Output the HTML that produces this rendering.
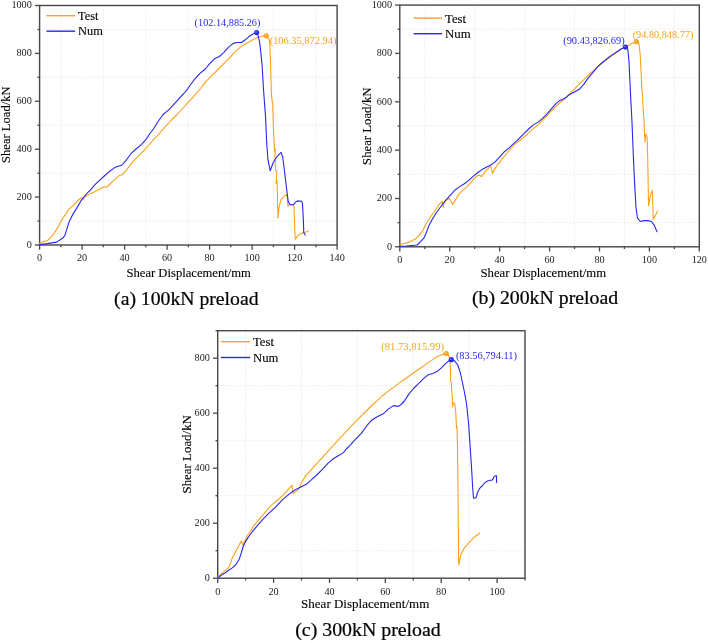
<!DOCTYPE html>
<html><head><meta charset="utf-8"><style>
html,body{margin:0;padding:0;background:#fff;}
body{width:708px;height:643px;overflow:hidden;}
svg{display:block;will-change:transform;}
text{font-family:"Liberation Serif", serif;fill:#000;stroke:#000;stroke-width:0.12px;}
.tl{font-size:10.2px;stroke:none;fill:#1a1a1a;}
.lg{font-size:12px;}
.g{stroke:#e2e2e2;stroke-width:0.8;stroke-dasharray:1,1.2;}
.ax{fill:none;stroke:#474747;stroke-width:1.4;}
.t{stroke:#474747;stroke-width:1.3;}
</style></head><body>
<svg width="708" height="643" viewBox="0 0 708 643">
<line x1="60.9" y1="5.5" x2="60.9" y2="245" class="g"/>
<line x1="103.3" y1="5.5" x2="103.3" y2="245" class="g"/>
<line x1="145.8" y1="5.5" x2="145.8" y2="245" class="g"/>
<line x1="188.3" y1="5.5" x2="188.3" y2="245" class="g"/>
<line x1="230.8" y1="5.5" x2="230.8" y2="245" class="g"/>
<line x1="273.4" y1="5.5" x2="273.4" y2="245" class="g"/>
<line x1="315.9" y1="5.5" x2="315.9" y2="245" class="g"/>
<line x1="39.6" y1="221.1" x2="337.1" y2="221.1" class="g"/>
<line x1="39.6" y1="173.2" x2="337.1" y2="173.2" class="g"/>
<line x1="39.6" y1="125.2" x2="337.1" y2="125.2" class="g"/>
<line x1="39.6" y1="77.3" x2="337.1" y2="77.3" class="g"/>
<line x1="39.6" y1="29.5" x2="337.1" y2="29.5" class="g"/>
<rect x="39.6" y="5.5" width="297.5" height="239.5" class="ax"/>
<line x1="39.6" y1="245" x2="39.6" y2="249.7" class="t"/>
<text x="39.6" y="260.8" class="tl" text-anchor="middle">0</text>
<line x1="60.9" y1="245" x2="60.9" y2="247.2" class="t"/>
<line x1="82.1" y1="245" x2="82.1" y2="249.7" class="t"/>
<text x="82.1" y="260.8" class="tl" text-anchor="middle">20</text>
<line x1="103.3" y1="245" x2="103.3" y2="247.2" class="t"/>
<line x1="124.6" y1="245" x2="124.6" y2="249.7" class="t"/>
<text x="124.6" y="260.8" class="tl" text-anchor="middle">40</text>
<line x1="145.8" y1="245" x2="145.8" y2="247.2" class="t"/>
<line x1="167.1" y1="245" x2="167.1" y2="249.7" class="t"/>
<text x="167.1" y="260.8" class="tl" text-anchor="middle">60</text>
<line x1="188.3" y1="245" x2="188.3" y2="247.2" class="t"/>
<line x1="209.6" y1="245" x2="209.6" y2="249.7" class="t"/>
<text x="209.6" y="260.8" class="tl" text-anchor="middle">80</text>
<line x1="230.8" y1="245" x2="230.8" y2="247.2" class="t"/>
<line x1="252.1" y1="245" x2="252.1" y2="249.7" class="t"/>
<text x="252.1" y="260.8" class="tl" text-anchor="middle">100</text>
<line x1="273.4" y1="245" x2="273.4" y2="247.2" class="t"/>
<line x1="294.6" y1="245" x2="294.6" y2="249.7" class="t"/>
<text x="294.6" y="260.8" class="tl" text-anchor="middle">120</text>
<line x1="315.9" y1="245" x2="315.9" y2="247.2" class="t"/>
<line x1="337.1" y1="245" x2="337.1" y2="249.7" class="t"/>
<text x="337.1" y="260.8" class="tl" text-anchor="middle">140</text>
<line x1="39.6" y1="245" x2="34.9" y2="245" class="t"/>
<text x="31.8" y="247.9" class="tl" text-anchor="end">0</text>
<line x1="39.6" y1="221.1" x2="37.4" y2="221.1" class="t"/>
<line x1="39.6" y1="197.1" x2="34.9" y2="197.1" class="t"/>
<text x="31.8" y="200" class="tl" text-anchor="end">200</text>
<line x1="39.6" y1="173.2" x2="37.4" y2="173.2" class="t"/>
<line x1="39.6" y1="149.2" x2="34.9" y2="149.2" class="t"/>
<text x="31.8" y="152.1" class="tl" text-anchor="end">400</text>
<line x1="39.6" y1="125.2" x2="37.4" y2="125.2" class="t"/>
<line x1="39.6" y1="101.3" x2="34.9" y2="101.3" class="t"/>
<text x="31.8" y="104.2" class="tl" text-anchor="end">600</text>
<line x1="39.6" y1="77.3" x2="37.4" y2="77.3" class="t"/>
<line x1="39.6" y1="53.4" x2="34.9" y2="53.4" class="t"/>
<text x="31.8" y="56.3" class="tl" text-anchor="end">800</text>
<line x1="39.6" y1="29.5" x2="37.4" y2="29.5" class="t"/>
<line x1="39.6" y1="5.5" x2="34.9" y2="5.5" class="t"/>
<text x="31.8" y="8.4" class="tl" text-anchor="end">1000</text>
<line x1="424.8" y1="5.1" x2="424.8" y2="246.8" class="g"/>
<line x1="474.7" y1="5.1" x2="474.7" y2="246.8" class="g"/>
<line x1="524.6" y1="5.1" x2="524.6" y2="246.8" class="g"/>
<line x1="574.5" y1="5.1" x2="574.5" y2="246.8" class="g"/>
<line x1="624.4" y1="5.1" x2="624.4" y2="246.8" class="g"/>
<line x1="674.4" y1="5.1" x2="674.4" y2="246.8" class="g"/>
<line x1="399.8" y1="222.6" x2="699.3" y2="222.6" class="g"/>
<line x1="399.8" y1="174.3" x2="699.3" y2="174.3" class="g"/>
<line x1="399.8" y1="126" x2="699.3" y2="126" class="g"/>
<line x1="399.8" y1="77.6" x2="699.3" y2="77.6" class="g"/>
<line x1="399.8" y1="29.3" x2="699.3" y2="29.3" class="g"/>
<rect x="399.8" y="5.1" width="299.5" height="241.7" class="ax"/>
<line x1="399.8" y1="246.8" x2="399.8" y2="251.5" class="t"/>
<text x="399.8" y="262.6" class="tl" text-anchor="middle">0</text>
<line x1="424.8" y1="246.8" x2="424.8" y2="249" class="t"/>
<line x1="449.7" y1="246.8" x2="449.7" y2="251.5" class="t"/>
<text x="449.7" y="262.6" class="tl" text-anchor="middle">20</text>
<line x1="474.7" y1="246.8" x2="474.7" y2="249" class="t"/>
<line x1="499.6" y1="246.8" x2="499.6" y2="251.5" class="t"/>
<text x="499.6" y="262.6" class="tl" text-anchor="middle">40</text>
<line x1="524.6" y1="246.8" x2="524.6" y2="249" class="t"/>
<line x1="549.6" y1="246.8" x2="549.6" y2="251.5" class="t"/>
<text x="549.6" y="262.6" class="tl" text-anchor="middle">60</text>
<line x1="574.5" y1="246.8" x2="574.5" y2="249" class="t"/>
<line x1="599.5" y1="246.8" x2="599.5" y2="251.5" class="t"/>
<text x="599.5" y="262.6" class="tl" text-anchor="middle">80</text>
<line x1="624.4" y1="246.8" x2="624.4" y2="249" class="t"/>
<line x1="649.4" y1="246.8" x2="649.4" y2="251.5" class="t"/>
<text x="649.4" y="262.6" class="tl" text-anchor="middle">100</text>
<line x1="674.4" y1="246.8" x2="674.4" y2="249" class="t"/>
<line x1="699.3" y1="246.8" x2="699.3" y2="251.5" class="t"/>
<text x="699.3" y="262.6" class="tl" text-anchor="middle">120</text>
<line x1="399.8" y1="246.8" x2="395.1" y2="246.8" class="t"/>
<text x="392" y="249.7" class="tl" text-anchor="end">0</text>
<line x1="399.8" y1="222.6" x2="397.6" y2="222.6" class="t"/>
<line x1="399.8" y1="198.5" x2="395.1" y2="198.5" class="t"/>
<text x="392" y="201.4" class="tl" text-anchor="end">200</text>
<line x1="399.8" y1="174.3" x2="397.6" y2="174.3" class="t"/>
<line x1="399.8" y1="150.1" x2="395.1" y2="150.1" class="t"/>
<text x="392" y="153" class="tl" text-anchor="end">400</text>
<line x1="399.8" y1="126" x2="397.6" y2="126" class="t"/>
<line x1="399.8" y1="101.8" x2="395.1" y2="101.8" class="t"/>
<text x="392" y="104.7" class="tl" text-anchor="end">600</text>
<line x1="399.8" y1="77.6" x2="397.6" y2="77.6" class="t"/>
<line x1="399.8" y1="53.4" x2="395.1" y2="53.4" class="t"/>
<text x="392" y="56.3" class="tl" text-anchor="end">800</text>
<line x1="399.8" y1="29.3" x2="397.6" y2="29.3" class="t"/>
<line x1="399.8" y1="5.1" x2="395.1" y2="5.1" class="t"/>
<text x="392" y="8" class="tl" text-anchor="end">1000</text>
<line x1="245.6" y1="330.7" x2="245.6" y2="578.2" class="g"/>
<line x1="301.5" y1="330.7" x2="301.5" y2="578.2" class="g"/>
<line x1="357.4" y1="330.7" x2="357.4" y2="578.2" class="g"/>
<line x1="413.3" y1="330.7" x2="413.3" y2="578.2" class="g"/>
<line x1="469.2" y1="330.7" x2="469.2" y2="578.2" class="g"/>
<line x1="217.7" y1="550.7" x2="525" y2="550.7" class="g"/>
<line x1="217.7" y1="495.7" x2="525" y2="495.7" class="g"/>
<line x1="217.7" y1="440.7" x2="525" y2="440.7" class="g"/>
<line x1="217.7" y1="385.7" x2="525" y2="385.7" class="g"/>
<rect x="217.7" y="330.7" width="307.3" height="247.5" class="ax"/>
<line x1="217.7" y1="578.2" x2="217.7" y2="582.9" class="t"/>
<text x="217.7" y="594.8" class="tl" text-anchor="middle">0</text>
<line x1="245.6" y1="578.2" x2="245.6" y2="580.4" class="t"/>
<line x1="273.6" y1="578.2" x2="273.6" y2="582.9" class="t"/>
<text x="273.6" y="594.8" class="tl" text-anchor="middle">20</text>
<line x1="301.5" y1="578.2" x2="301.5" y2="580.4" class="t"/>
<line x1="329.5" y1="578.2" x2="329.5" y2="582.9" class="t"/>
<text x="329.5" y="594.8" class="tl" text-anchor="middle">40</text>
<line x1="357.4" y1="578.2" x2="357.4" y2="580.4" class="t"/>
<line x1="385.3" y1="578.2" x2="385.3" y2="582.9" class="t"/>
<text x="385.3" y="594.8" class="tl" text-anchor="middle">60</text>
<line x1="413.3" y1="578.2" x2="413.3" y2="580.4" class="t"/>
<line x1="441.2" y1="578.2" x2="441.2" y2="582.9" class="t"/>
<text x="441.2" y="594.8" class="tl" text-anchor="middle">80</text>
<line x1="469.2" y1="578.2" x2="469.2" y2="580.4" class="t"/>
<line x1="497.1" y1="578.2" x2="497.1" y2="582.9" class="t"/>
<text x="497.1" y="594.8" class="tl" text-anchor="middle">100</text>
<line x1="525" y1="578.2" x2="525" y2="580.4" class="t"/>
<line x1="217.7" y1="578.2" x2="213" y2="578.2" class="t"/>
<text x="209.9" y="581.1" class="tl" text-anchor="end">0</text>
<line x1="217.7" y1="550.7" x2="215.5" y2="550.7" class="t"/>
<line x1="217.7" y1="523.2" x2="213" y2="523.2" class="t"/>
<text x="209.9" y="526.1" class="tl" text-anchor="end">200</text>
<line x1="217.7" y1="495.7" x2="215.5" y2="495.7" class="t"/>
<line x1="217.7" y1="468.2" x2="213" y2="468.2" class="t"/>
<text x="209.9" y="471.1" class="tl" text-anchor="end">400</text>
<line x1="217.7" y1="440.7" x2="215.5" y2="440.7" class="t"/>
<line x1="217.7" y1="413.2" x2="213" y2="413.2" class="t"/>
<text x="209.9" y="416.1" class="tl" text-anchor="end">600</text>
<line x1="217.7" y1="385.7" x2="215.5" y2="385.7" class="t"/>
<line x1="217.7" y1="358.2" x2="213" y2="358.2" class="t"/>
<text x="209.9" y="361.1" class="tl" text-anchor="end">800</text>
<line x1="217.7" y1="330.7" x2="215.5" y2="330.7" class="t"/>
<path d="M39.7,243.6 L43.6,241.4 L46.9,241 L50.1,238.2 L53.9,233.5 L57.6,227.9 L60.9,221.4 L65.1,214.9 L69.3,208.8 L73.4,205.1 L79,199.5 L81.8,197.6 L83.2,199.9 L84.6,197.1 L88.4,194.8 L94,192 L99.7,189.1 L104.3,186.8 L106.7,187.2 L109.9,184 L114.6,179.6 L119.3,175.3 L122.1,174.9 L125.8,170.9 L130.4,164.9 L134.2,160.2 L139.8,154.6 L145.4,149 L151,142.5 L152.8,140.4 L159.3,133.6 L164.9,127.1 L170.5,121 L177.1,114.5 L182.6,108.5 L188.2,102.4 L193.8,96.3 L200.5,88.5 L206.2,81.2 L211.8,75.6 L217.4,70 L223,64.4 L228.6,58.8 L234.2,52.7 L239.8,47.6 L245.2,44 L250,41.5 L254.3,39 L258.1,37.4 L261.2,36.5 L263.7,35.9 L266.2,35.6 L268.6,38.4 L269.6,41.2 L269.9,46.8 L270.2,56.1 L270.4,60 L271.5,95.1 L272.3,103 L273.1,105.5 L272.6,108.5 L273.1,111.5 L273.2,123.1 L274,140 L274.6,150.9 L275.2,148.5 L275,156.8 L275.6,170.1 L276.8,170.8 L276.1,183.4 L277.1,180.5 L277.6,204.1 L278,218.1 L279,207 L281.2,199.7 L284.2,196 L286.9,194.5 L287.9,206.3 L289.4,204.8 L292.3,204.8 L293.3,205.2 L293.9,206.3 L294.5,221.1 L295,236.6 L295.4,239.3 L297,236.6 L299.3,234.3 L302.4,233.1 L305.5,232.3 L308.6,231" fill="none" stroke="#F9A21B" stroke-width="1.1" stroke-linejoin="round" stroke-linecap="round"/>
<path d="M39.6,244.6 L47.3,243.6 L56.7,242.1 L63.2,237.7 L65.1,234.9 L66.9,228.8 L69.3,221.4 L72.5,214.9 L77.2,207.4 L81.8,199.5 L86.5,193.9 L91.2,189.2 L95,184.6 L99.7,180.2 L104.3,176 L109,171.8 L114.6,167.6 L118.3,166.3 L122.1,165 L125.8,160.7 L130.9,153.7 L136,149 L141.6,144.3 L145.8,139.7 L149.6,134 L153.7,128.5 L158.4,121 L163.1,114.5 L168.7,109.9 L174.3,103.8 L179.9,97.7 L186.4,90.7 L189.2,86.5 L193.8,80.2 L199.7,73.7 L205.3,69 L209.9,63.4 L214.6,58.8 L219.3,56.5 L223.9,52.3 L228.6,47.1 L233.2,43.4 L237,42.5 L241.6,42.5 L245.2,39.8 L248.7,36.8 L252.5,34.3 L256.5,32.3 L258.1,35.6 L259.3,40.6 L260.2,46.8 L261.2,56.1 L262.1,65 L263.4,88 L265.5,116.1 L266.8,145 L268,159.8 L270.2,170.8 L273.1,162.7 L276.8,156.8 L281,152.4 L282.7,156.8 L284.9,174.5 L287.2,193.7 L288.3,201.9 L290.1,204.8 L293.1,204.8 L295.4,202.4 L297.4,200.9 L301.6,201.3 L302.4,203.2 L302.8,209.4 L303.4,221.1 L303.8,232.7 L304.8,234.3 L305.4,235" fill="none" stroke="#2727F0" stroke-width="1.1" stroke-linejoin="round" stroke-linecap="round"/>
<path d="M399.9,244.4 L403.6,243.8 L409.2,242.1 L415.3,239.1 L419.5,234.9 L423.2,229.8 L426.5,223.2 L430.6,216.7 L435.3,210.2 L439,204.6 L442.3,201.3 L443.2,207.4 L443.7,203.7 L446,200.4 L448.8,198.2 L450.2,199.9 L452.6,204.6 L454.9,200.9 L458.7,194.6 L462.5,190.4 L465.3,188.5 L469.9,183.4 L473.7,179.2 L476.9,175.9 L479.3,175.3 L481.6,176.6 L484.9,172.2 L490.4,166.1 L491.4,168 L492.5,173.6 L494.2,169.9 L497.9,164.3 L501.6,159.6 L506.3,154 L510.3,149.2 L514.7,144.4 L519.3,140.7 L524,137 L528.7,132.8 L533.3,128.6 L538,124.9 L542.6,120.2 L547.3,115.5 L552,110.4 L556.6,105.7 L561.3,101.5 L566,97.6 L568.7,94.9 L574.3,89.1 L579,84.4 L583.7,79.8 L588.3,75.1 L593,70.9 L597.6,67.2 L602.3,63 L607,59.3 L611.6,56 L615.4,53.2 L619.9,49.8 L625.5,46.8 L631.8,43.6 L636.4,41.4 L638.6,42.6 L639.6,48.7 L640.3,56 L641.2,75 L642.1,92.5 L642.7,94 L642.5,96 L643.5,115 L644,120 L644.5,133 L644.9,142.3 L645.8,134 L647.1,136.8 L647.7,157.2 L648.2,185.2 L648.6,205.7 L650.5,194.5 L652.3,190.4 L652.7,201.9 L653.3,219.6 L655.1,215.9 L657.6,210.9" fill="none" stroke="#F9A21B" stroke-width="1.1" stroke-linejoin="round" stroke-linecap="round"/>
<path d="M399.8,246.3 L406.4,246 L417.1,245 L420.4,241.9 L424.1,237.7 L426.5,232.1 L428.8,226 L431.6,220.4 L436.2,213 L440.9,206.5 L445.6,200.4 L450.2,195.3 L455,190 L459.7,186.6 L464.3,183.8 L469,180.1 L473.7,175.9 L478.3,172.2 L483,168.9 L487.6,166.6 L490.9,165 L495.1,161.9 L499.8,156.8 L504.4,151.7 L509.1,147.9 L514.7,142.6 L519.3,138.4 L524,133.7 L528.7,129 L533.3,124.9 L538,122.1 L542.6,118.3 L547.3,113.7 L552,108.1 L555.7,103.9 L559.4,100.6 L562.7,99.5 L566,97.6 L568.7,95 L574.3,91.9 L579,89.6 L583.7,84.4 L588.3,77.9 L593,72.3 L597.6,66.7 L602.3,62.5 L607,58.8 L611.6,55.1 L616.3,52.3 L621,49 L625.5,47 L627.8,49.5 L628.9,60 L630.8,99.5 L631.9,120 L633.4,157.2 L634.7,185.2 L636,207.5 L637.4,217.8 L640.2,221.5 L644,220.6 L647.7,220.6 L651.4,221.5 L654.2,225.2 L657,231.7" fill="none" stroke="#2727F0" stroke-width="1.1" stroke-linejoin="round" stroke-linecap="round"/>
<path d="M217.7,578 L218.3,576.6 L221.5,573.6 L225.3,570.3 L229,567.1 L230.4,563.8 L232.2,558.2 L234.6,553.6 L237.4,548.4 L239.7,543.8 L241.4,541 L242.7,545.2 L244.8,541 L247.6,535.4 L251.4,529.8 L253.7,525.9 L259.3,519.2 L264.9,512.6 L270.4,506.1 L277,500.5 L283.5,494.9 L289.1,488.4 L292.1,485.2 L292.8,491.2 L293.3,493.4 L294.9,492 L297.1,490.9 L299.8,487.1 L302,481.6 L306.3,475.1 L311.8,469.1 L317.2,463.1 L322.7,457.1 L328.1,451.1 L333.6,445.1 L339,439.2 L344.6,433.3 L350.4,426.8 L355.9,421.4 L361.3,415.9 L366.8,410.5 L372.2,405 L377.7,400.1 L383.1,395.2 L388.6,390.9 L394,387.1 L399.6,382.6 L405.4,378.7 L410.9,374.8 L416.3,371 L421.8,367.2 L427.2,363.4 L432.7,359.6 L438.1,356.3 L442.5,354.4 L446.3,353.6 L448.5,355.2 L449.9,359.1 L450.3,367.2 L450.7,381.4 L451.7,383.6 L451.4,385.7 L452.3,396.6 L452.6,406.8 L453.3,402.9 L454.7,403.3 L455.7,411 L456.5,427.8 L457.3,427.1 L457.1,431.3 L457.5,446 L457.9,480 L458.3,527 L458.7,565 L460.7,555.2 L463.9,548.7 L468.3,543.3 L473.7,537.8 L479.6,533" fill="none" stroke="#F9A21B" stroke-width="1.1" stroke-linejoin="round" stroke-linecap="round"/>
<path d="M217.7,578.2 L221.5,575 L225.3,572.7 L228.5,570.3 L232.7,567.6 L236.4,563.8 L239.2,559.2 L241.1,553.6 L243,547 L245.3,541.9 L248.6,536.8 L252.3,531.7 L256.5,526.6 L263,519.2 L269.5,512.6 L276,506.6 L282.6,499.6 L288.2,494.9 L294.4,490.3 L299.8,487.6 L306.3,484.3 L311.8,479.4 L317.2,474.5 L322.7,469.1 L328.1,463.1 L332.5,459.3 L337.9,456 L343.4,452.6 L346.3,449 L350.2,445.2 L355.9,438.8 L361.3,433.4 L366.8,425.7 L372.2,419.7 L377.7,416.5 L383.1,413.8 L388.6,408.9 L393.5,405.6 L398.4,406.4 L401.6,404 L404.4,401 L408.7,394.4 L413.1,389 L418.5,383.6 L424,378.1 L428.3,374.8 L432.7,373.5 L437,371.6 L441.4,367.8 L445.7,363.4 L449,360.7 L451,359.6 L454.4,360.7 L457.7,365 L460.3,372.5 L463.8,389 L466.6,404 L468.7,425 L470.1,446 L471.5,466.9 L472.7,488 L473.5,498.1 L474.8,498.3 L476.2,497.4 L477.6,492.2 L479.7,488.3 L482.5,485.5 L485.3,482.4 L487.4,481 L490.2,480.3 L491.9,480.3 L493,478.9 L494,476.8 L495.4,475.9 L496.5,475.7 L496.6,482.4" fill="none" stroke="#2727F0" stroke-width="1.1" stroke-linejoin="round" stroke-linecap="round"/>
<defs><radialGradient id="gb" cx="0.5" cy="0.5" r="0.5" fx="0.35" fy="0.35"><stop offset="0" stop-color="#b0b0ff"/><stop offset="0.45" stop-color="#2727F0"/><stop offset="1" stop-color="#2727F0"/></radialGradient><radialGradient id="go" cx="0.5" cy="0.5" r="0.5" fx="0.35" fy="0.35"><stop offset="0" stop-color="#ffe0b0"/><stop offset="0.45" stop-color="#F9A21B"/><stop offset="1" stop-color="#F9A21B"/></radialGradient></defs>
<circle cx="256.6" cy="32.6" r="2.6" fill="url(#gb)"/>
<circle cx="266.3" cy="35.8" r="2.6" fill="url(#go)"/>
<circle cx="625.5" cy="47" r="2.6" fill="url(#gb)"/>
<circle cx="636.4" cy="41.6" r="2.6" fill="url(#go)"/>
<circle cx="451.3" cy="359.7" r="2.6" fill="url(#gb)"/>
<circle cx="446.2" cy="353.5" r="2.6" fill="url(#go)"/>
<text x="194.6" y="26" style="fill:#2727F0;stroke:none" font-size="10.25" text-anchor="start">(102.14,885.26)</text>
<text x="269.7" y="44" style="fill:#F9A21B;stroke:none" font-size="10.4" text-anchor="start">(106.35,872.94)</text>
<text x="563.2" y="43.5" style="fill:#2727F0;stroke:none" font-size="10.4" text-anchor="start">(90.43,826.69)</text>
<text x="632.7" y="37.8" style="fill:#F9A21B;stroke:none" font-size="10.25" text-anchor="start">(94.80,848.77)</text>
<text x="381.3" y="349.8" style="fill:#F9A21B;stroke:none" font-size="10.6" text-anchor="start">(81.73,815.99)</text>
<text x="455.9" y="358.8" style="fill:#2727F0;stroke:none" font-size="10.4" text-anchor="start">(83.56,794.11)</text>
<line x1="46.4" y1="15.7" x2="75.1" y2="15.7" stroke="#F9A21B" stroke-width="1.4"/>
<line x1="46.4" y1="31.2" x2="75.1" y2="31.2" stroke="#2727F0" stroke-width="1.4"/>
<text x="78" y="19.9" font-size="12.4">Test</text>
<text x="78" y="35.2" font-size="12.4">Num</text>
<line x1="413.6" y1="18.1" x2="442" y2="18.1" stroke="#F9A21B" stroke-width="1.4"/>
<line x1="413.6" y1="33.7" x2="442" y2="33.7" stroke="#2727F0" stroke-width="1.4"/>
<text x="445" y="22.7" font-size="12.8">Test</text>
<text x="445" y="37.8" font-size="12.8">Num</text>
<line x1="220.9" y1="341.7" x2="250.1" y2="341.7" stroke="#F9A21B" stroke-width="1.4"/>
<line x1="220.9" y1="357.5" x2="250.1" y2="357.5" stroke="#2727F0" stroke-width="1.4"/>
<text x="253" y="345.8" font-size="12.7">Test</text>
<text x="253" y="361.8" font-size="12.7">Num</text>
<text x="188.7" y="277.1" font-size="12.63" text-anchor="middle">Shear Displacement/mm</text>
<text x="543.3" y="276.9" font-size="12.74" text-anchor="middle">Shear Displacement/mm</text>
<text x="365.2" y="608.4" font-size="13.0" text-anchor="middle">Shear Displacement/mm</text>
<text transform="translate(10.3,124.7) rotate(-90)" font-size="12.6" text-anchor="middle">Shear Load/kN</text>
<text transform="translate(370.8,126.2) rotate(-90)" font-size="12.75" text-anchor="middle">Shear Load/kN</text>
<text transform="translate(191.3,454.3) rotate(-90)" font-size="12.9" text-anchor="middle">Shear Load/kN</text>
<text x="186.3" y="304.6" font-size="19.72" text-anchor="middle" style="stroke-width:0.22px">(a) 100kN preload</text>
<text x="545" y="304.4" font-size="19.79" text-anchor="middle" style="stroke-width:0.22px">(b) 200kN preload</text>
<text x="368" y="635.8" font-size="19.86" text-anchor="middle" style="stroke-width:0.22px">(c) 300kN preload</text>
</svg>
</body></html>
